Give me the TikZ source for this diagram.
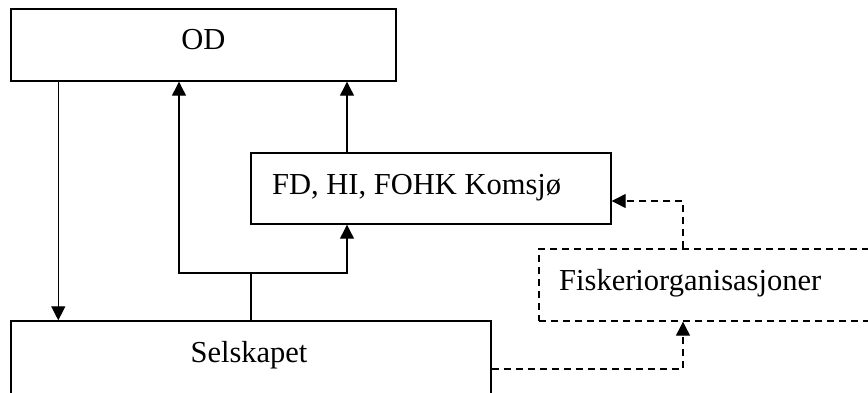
\documentclass[tikz,border=0pt]{standalone}
\usepackage{fontspec}
\setmainfont{Liberation Serif}
\usetikzlibrary{arrows.meta}
\tikzset{
  boxn/.style={draw, line width=1.4pt, rectangle, inner sep=0pt, minimum width=#1},
  dboxn/.style={boxn=#1, dash pattern=on 7pt off 5pt},
  txt/.style={inner sep=0pt, font=\fontsize{30.5}{36}\selectfont},
  conn/.style={line width=1.2pt},
  arr/.style={conn, -{Triangle[length=14pt,width=14pt]}},
  darr/.style={arr, dash pattern=on 7pt off 5pt}
}
\begin{document}
\begin{tikzpicture}[x=1pt,y=-1pt]
\useasboundingbox (0,0) rectangle (868,392);
\clip (0,0) rectangle (868,392);
% boxes
\node[boxn=385pt, minimum height=72pt] (od) at (203.5,45) {};
\node[boxn=360pt, minimum height=71pt] (fd) at (431,188.5) {};
\node[dboxn=351pt, minimum height=72pt] (fis) at (714.5,285) {};
\node[boxn=480pt, minimum height=80pt] (sel) at (251,361) {};
% texts
\node[txt, anchor=base] (odt) at (203.5,49.3) {OD};
\node[txt, anchor=base west] (fdt) at (272,194) {FD, HI, FOHK Komsjø};
\node[txt, anchor=base west] (fist) at (559,290) {Fiskeriorganisasjoner};
\node[txt, anchor=base] (selt) at (249,362) {Selskapet};
% helper coordinates
\coordinate (jl) at (179,273);
\coordinate (jr) at (347,273);
\coordinate (k) at (683,369);
\coordinate (m) at (683,201);
% connectors
\draw[arr] ([xshift=48pt]od.south west) -- ([xshift=48pt]sel.north west);
\draw[conn] (sel.north) -- (sel.north |- jl);
\draw[arr] (sel.north |- jl) -- (jl) -- (jl |- od.south);
\draw[arr] (sel.north |- jr) -- (jr) -- (jr |- fd.south);
\draw[arr] (jr |- fd.north) -- (jr |- od.south);
\draw[darr] (k -| sel.east) -- (k) -- (k |- fis.south);
\draw[darr] (m |- fis.north) -- (m) -- (m -| fd.east);
\end{tikzpicture}
\end{document}
